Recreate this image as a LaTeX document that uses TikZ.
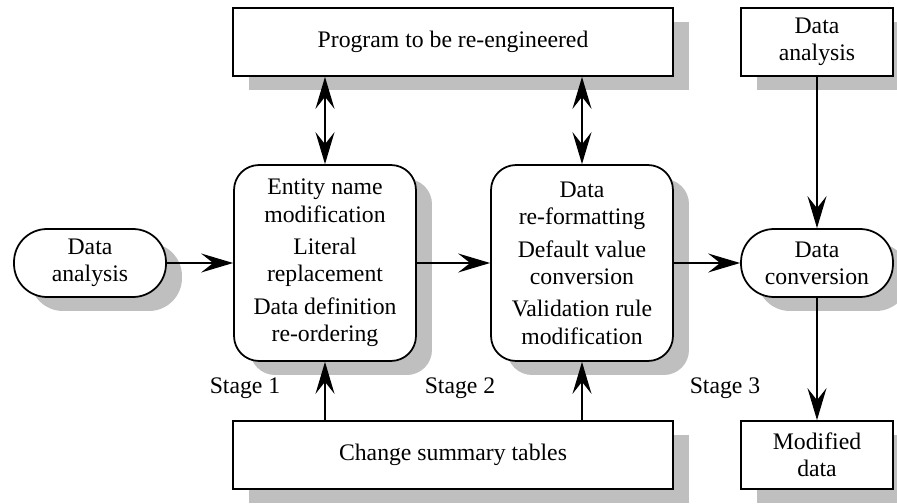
\documentclass[tikz,border=0pt]{standalone}
\usepackage{fontspec}
\setmainfont{Liberation Serif}
\usepackage{tikz}
\usetikzlibrary{shapes,arrows.meta,shadows}
\tikzset{>={Stealth[length=0.64cm,width=0.38cm,inset=0.24cm]}}
\tikzset{
  box/.style={rectangle, draw, line width=1pt, fill=white, inner sep=0pt,
    align=center, font=\fontsize{13.5}{15.5}\selectfont,
    drop shadow={shadow xshift=0.32cm, shadow yshift=-0.28cm,
      fill=black!25, opacity=1}},
  oval/.style={box, rounded corners=0.66cm},
  stagebox/.style={box, rounded corners=0.5cm},
  flow/.style={->, line width=0.85pt},
  stagelabel/.style={font=\fontsize{13.5}{15.5}\selectfont}
}

\begin{document}
\begin{tikzpicture}[x=0.02cm, y=-0.02cm]
  \newcommand{\boxh}{1.36cm}
  \newcommand{\sidew}{3.04cm}
  \newcommand{\stagew}{3.64cm}
  \newcommand{\stageh}{3.92cm}
  \newcommand{\widew}{8.8cm}
  \newcommand{\grpgap}{3pt}

  \useasboundingbox (0,0) rectangle (897,504);

  \node[box, minimum width=\widew, minimum height=\boxh] (prog) at (453,42) %%
  {Program to be re-engineered};
  \node[box, minimum width=\sidew, minimum height=\boxh] (topdata) at (817,42) %%
  {Data\\analysis};

  \node[oval, minimum width=\sidew, minimum height=\boxh] (leftdata) at (90,263) %%
  {Data\\analysis};

  \node[stagebox, minimum width=\stagew, minimum height=\stageh] (stageA) at (325,263) %%
  {Entity name\\modification\\[\grpgap]Literal\\replacement\\[\grpgap]%%
    Data definition\\re-ordering};
  \node[stagebox, minimum width=\stagew, minimum height=\stageh] (stageB) at (582,263) %%
  {Data\\re-formatting\\[\grpgap]Default value\\conversion\\[\grpgap]%%
    Validation rule\\modification};

  \node[oval, minimum width=\sidew, minimum height=\boxh] (conv) at (817,263) %%
  {Data\\conversion};

  \node[box, minimum width=\widew, minimum height=\boxh] (tables) at (453,455) %%
  {Change summary tables};
  \node[box, minimum width=\sidew, minimum height=\boxh] (moddata) at (817,455) %%
  {Modified\\data};

  \node[stagelabel] (labA) at (245,388) {Stage 1};
  \node[stagelabel] (labB) at (460,388) {Stage 2};
  \node[stagelabel] (labC) at (725,388) {Stage 3};

  % main flow
  \draw[flow] (leftdata.east) -- (stageA.west);
  \draw[flow] (stageA.east) -- (stageB.west);
  \draw[flow] (stageB.east) -- (conv.west);
  \draw[flow] (topdata.south) -- (conv.north);
  \draw[flow] (conv.south) -- (moddata.north);

  % program and tables
  \draw[flow, <->] (stageA.north |- prog.south) -- (stageA.north);
  \draw[flow, <->] (stageB.north |- prog.south) -- (stageB.north);
  \draw[flow] (stageA.south |- tables.north) -- (stageA.south);
  \draw[flow] (stageB.south |- tables.north) -- (stageB.south);
\end{tikzpicture}
\end{document}
